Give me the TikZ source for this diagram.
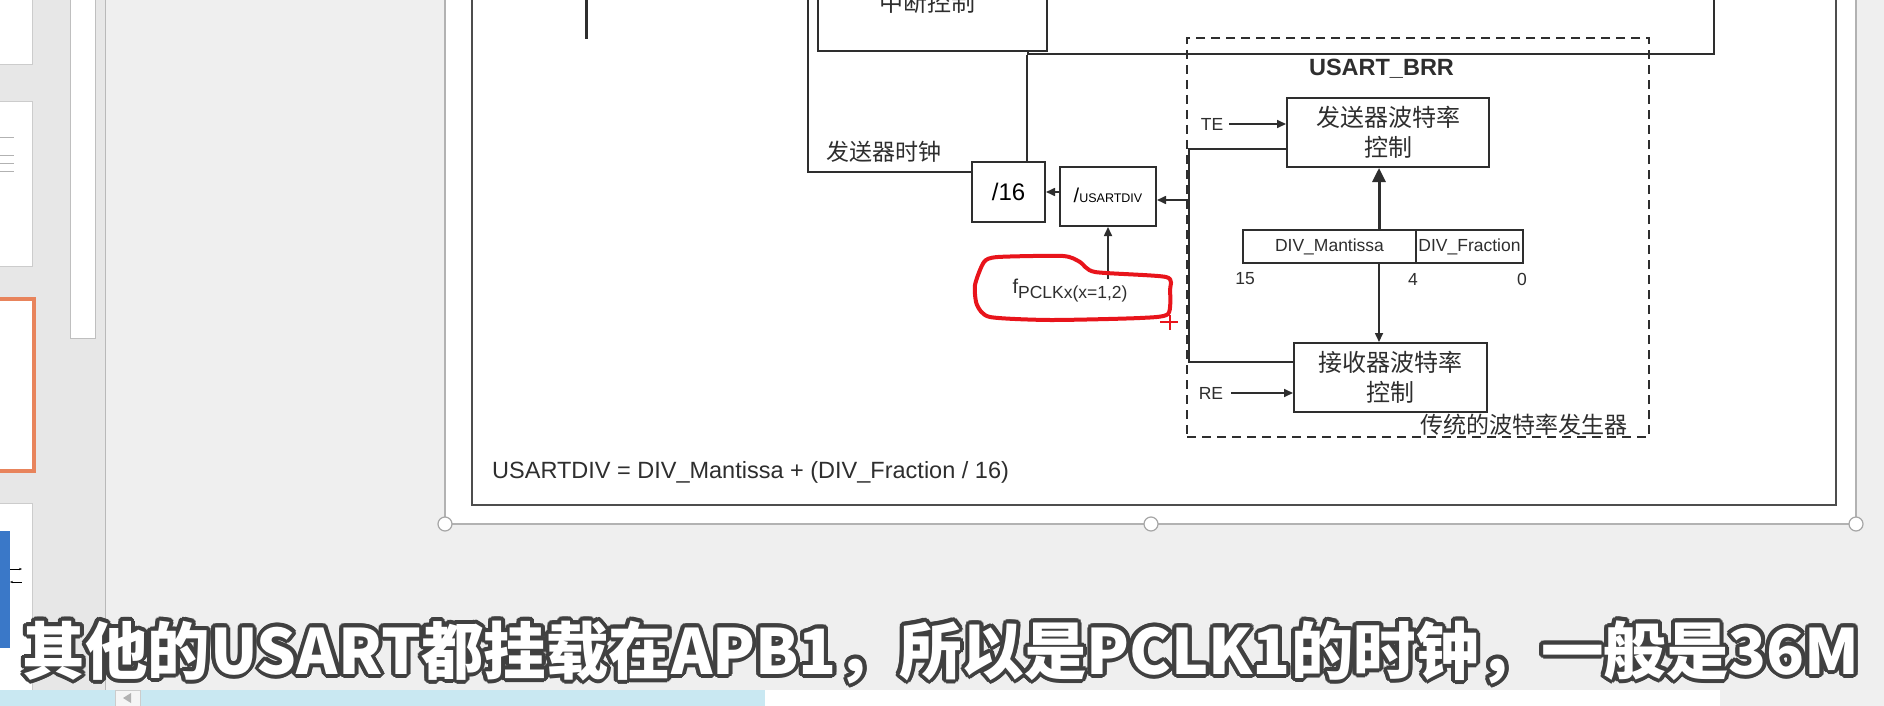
\documentclass[tikz,border=0pt]{standalone}
\usepackage{fontspec}
\setmainfont{Liberation Sans}
\newfontfamily\cjk{Noto Sans CJK SC}
\usetikzlibrary{arrows.meta,calc}
\definecolor{wline}{HTML}{2E2E2E}
\definecolor{winbg}{HTML}{EFEFEF}
\definecolor{panebg}{HTML}{E7E7E7}
\definecolor{selorange}{HTML}{E8845C}
\definecolor{inkred}{HTML}{E8141B}
\definecolor{barblue}{HTML}{C9E8F2}
\definecolor{thumbblue}{HTML}{3A78C8}

\begin{document}
\begin{tikzpicture}[
        x=1pt, y=-1pt,
        blk/.style={draw=wline, line width=2pt, fill=white, inner sep=0pt, align=center},
        wire/.style={draw=wline, line width=1.6pt},
        arr/.style={wire, -{Triangle[length=9pt,width=8pt]}},
        bigarr/.style={draw=wline, line width=3pt, -{Triangle[length=14pt,width=13pt]}},
        lbl/.style={font=\fontsize{17.5}{20}\selectfont, text=wline, inner sep=0pt},
        cjklbl/.style={font=\cjk\fontsize{24}{29.5}\selectfont, text=wline, inner sep=0pt, align=center},
        subtl/.style={font=\cjk\bfseries\fontsize{62.5}{70}\selectfont, inner sep=0pt}]

    \useasboundingbox (0,0) rectangle (1884,706);
    \clip (0,0) rectangle (1884,706);

    % --- Window background and slide pane
    \fill[winbg] (0,0) rectangle (1884,706);
    \fill[panebg] (0,0) rectangle (105,706);
    \draw[gray!55, line width=1pt] (105,0) -- (105,706);
    \filldraw[fill=white, draw=gray!40] (-2,-2) rectangle (32,64);
    \filldraw[fill=white, draw=gray!40] (-2,101) rectangle (32,266);
    \foreach \y in {137,155,163,171}
        \draw[gray!60, line width=0.8pt] (0,\y) -- (14,\y);
    \filldraw[fill=white, draw=selorange, line width=4pt] (-4,299) rectangle (34,471);
    \filldraw[fill=white, draw=gray!40] (-2,503) rectangle (32,720);
    \fill[thumbblue] (0,531) rectangle (10,648);
    \draw[-{Stealth[length=3pt]}] (10,569) -- (22,569);
    \draw[{Stealth[length=3pt]}-] (10,582) -- (22,582);
    \filldraw[fill=white, draw=gray!50] (70,-2) rectangle (95,338);

    % --- Slide with selection frame
    \fill[white] (445,-2) rectangle (1856,524);
    \draw[gray!60, line width=1.2pt] (445,-2) -- (445,524) -- (1856,524) -- (1856,-2);
    \draw[wline!85, line width=2pt] (472,-2) -- (472,505) -- (1836,505) -- (1836,-2);
    \foreach \x in {445,1151,1856}
        \filldraw[fill=white, draw=gray!70, line width=1.2pt] (\x,524) circle (7);

    % --- Upper blocks (cut off)
    \draw[wline, line width=3pt] (586,-2) -- (586,39);
    \node[blk, minimum width=686pt, minimum height=100pt, anchor=south west] (bigbox) at (1027,55) {};
    \node[blk, minimum width=229pt, minimum height=80pt, anchor=south west] (intctl) at (817,52) {};
    \node[cjklbl] (intctltxt) at (927,2) {中断控制};

    % --- Clock dividers
    \node[blk, minimum width=73pt, minimum height=60pt] (div16) at (1008.5,192) {\fontsize{24}{24}\selectfont /16};
    \node[blk, minimum width=96pt, minimum height=59pt] (usartdiv) at (1108,196.5)
        {\raisebox{3pt}{{\fontsize{20}{20}\selectfont /}{\fontsize{12.5}{13}\selectfont USARTDIV}}};
    \node[lbl] (fpclk) at (1070,291)
        {{\fontsize{20}{20}\selectfont f}\raisebox{-5pt}{PCLKx(x=1,2)}};

    \coordinate (txclk) at (808,-2);
    \coordinate (txin) at (972,172);
    \draw[wire] (txclk) |- (txin);
    \node[cjklbl, font=\cjk\fontsize{23}{23}\selectfont] (txclklbl) at (884,152) {发送器时钟};
    \draw[wire] (bigbox.south west) -- (bigbox.south west |- div16.north);
    \draw[arr] (usartdiv.west |- div16.east) -- (div16.east);
    \draw[arr] (fpclk.north -| usartdiv.south) -- (usartdiv.south);

    % --- Red ink mark
    \draw[inkred, line width=4pt, line join=round] plot[smooth cycle, tension=0.4] coordinates {
        (975,285) (984,262) (998,257) (1063,256) (1080,262) (1095,272) (1166,277)
        (1170,290) (1168,314) (1140,318) (1050,320) (990,317) (977,305)};
    \draw[inkred, line width=1.5pt] (1160,322) -- (1178,322) (1170,315) -- (1170,330);

    % --- USART_BRR
    \node[draw=wline, line width=2.2pt, dash pattern=on 9pt off 6pt, minimum width=462pt, minimum height=399pt, inner sep=0pt] (brr) at (1418,237.5) {};
    \node[lbl, font=\bfseries\fontsize{23.5}{24}\selectfont] (brrlbl) at (1381.5,68.5) {USART\_BRR};
    \node[blk, cjklbl, minimum width=202pt, minimum height=69pt] (txbrc) at (1388,132.5) {发送器波特率\\控制};
    \node[blk, cjklbl, minimum width=193pt, minimum height=69pt] (rxbrc) at (1390.5,377.5) {接收器波特率\\控制};
    \node[blk, lbl, minimum width=173pt, minimum height=33pt] (mant) at (1329.5,246.5) {DIV\_Mantissa};
    \node[blk, lbl, minimum width=107pt, minimum height=33pt] (frac) at (1469.5,246.5) {DIV\_Fraction};
    \node[lbl] (b15) at (1245,279) {15};
    \node[lbl] (b4) at (1413,279) {4};
    \node[lbl] (b0) at (1522,279) {0};
    \node[lbl] (te) at (1212,124) {TE};
    \node[lbl] (re) at (1211,393) {RE};
    \draw[arr] (te.east) ++(6,0) -- (txbrc.west |- te.east);
    \draw[arr] (re.east) ++(8,0) -- (rxbrc.west |- re.east);

    \coordinate (tap) at (1379,0);
    \draw[bigarr] (tap |- mant.north) -- (tap |- txbrc.south);
    \draw[arr] (tap |- mant.south) -- (tap |- rxbrc.north);

    \coordinate (bustop) at (1189,149);
    \coordinate (busbot) at (1189,362);
    \draw[wire] (txbrc.west |- bustop) -- (bustop) -- (busbot) -- (rxbrc.west |- busbot);
    \draw[arr] (bustop |- 0,200) -- (usartdiv.east |- 0,200);
    \node[cjklbl, font=\cjk\fontsize{23}{23}\selectfont] (legacy) at (1524,425) {传统的波特率发生器};

    % --- Formula
    \node[lbl, font=\fontsize{23.5}{24}\selectfont, anchor=base west] (formula) at (492,478)
        {USARTDIV = DIV\_Mantissa + (DIV\_Fraction / 16)};

    % --- Status bar
    \fill[barblue] (0,690) rectangle (765,706);
    \fill[white] (765,690) rectangle (1720,706);
    \fill[gray!12] (1720,690) rectangle (1884,706);
    \filldraw[fill=gray!8, draw=gray!40] (115,690) rectangle (140,708);
    \fill[gray!60] (123,698) -- (131,693) -- (131,703) -- cycle;

    % --- Subtitle
    \foreach \a in {0,22.5,...,337.5}
        \node[subtl, text=black!75] (sub-\a) at ($(941,652)+(\a:4)$) {其他的USART都挂载在APB1，所以是PCLK1的时钟，一般是36M};
    \node[subtl, text=white] (subtitle) at (941,652) {其他的USART都挂载在APB1，所以是PCLK1的时钟，一般是36M};

\end{tikzpicture}
\end{document}
